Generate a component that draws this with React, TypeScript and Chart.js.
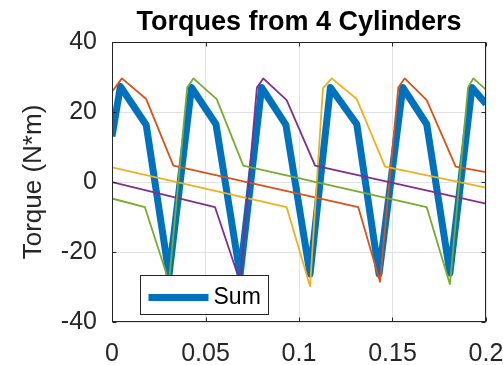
import React, { useEffect, useRef } from "react";
import { Chart, registerables } from "chart.js";

Chart.register(...registerables);

// ---- text ----
const chartTitle = "Torques from 4 Cylinders";
const yAxisTitle = "Torque (N*m)";
const xTickValues = [0, 0.05, 0.1, 0.15, 0.2];
const xTickLabels = ["0", "0.05", "0.1", "0.15", "0.2"];
const yTickValues = [-40, -20, 0, 20, 40];
const yTickLabels = ["-40", "-20", "0", "20", "40"];

// ---- series (time in s, torque in N*m) ----
const sumLabel = "Sum";
const sumTime = [0, 0.0045, 0.0183, 0.0305, 0.0425, 0.0556, 0.0685, 0.08, 0.093, 0.1059, 0.1168, 0.1309, 0.1428, 0.1555, 0.1683, 0.1807, 0.1925, 0.2];
const sumTorque = [13, 27.3, 16.3, -26.5, 27, 16.5, -26.5, 27, 16.3, -26.3, 27, 16.5, -26.3, 27, 16.5, -26, 27, 22.3];

const cyl1Time = [0, 0.0053, 0.0183, 0.0328, 0.1317, 0.1433, 0.1531, 0.1565, 0.1683, 0.1838, 0.2];
const cyl1Torque = [25.8, 29.6, 23.7, 4.7, -7.2, -28.5, 27, 29.6, 23.4, 4.4, 2.8];

const cyl2Time = [0, 0.0934, 0.1059, 0.1128, 0.1175, 0.1309, 0.146, 0.2];
const cyl2Torque = [4.2, -7.2, -29.8, 26.8, 29.6, 23.7, 4.4, -1.6];

const cyl3Time = [0, 0.0551, 0.0685, 0.0775, 0.0809, 0.0934, 0.1086, 0.2];
const cyl3Torque = [0, -7.2, -28.5, 27, 29.6, 23.4, 4.7, -6.2];

const cyl4Time = [0, 0.0176, 0.0305, 0.0402, 0.0435, 0.056, 0.0702, 0.1683, 0.1807, 0.1904, 0.1932, 0.2];
const cyl4Torque = [-4.7, -7.2, -28.5, 27, 29.6, 23.7, 4.7, -7.2, -29.2, 27, 29.6, 26.4];

const FONT = "'Liberation Sans', Arial, Helvetica, sans-serif";
const AXIS_COLOR = "#262626";

const matlabFrame = {
  id: "matlabFrame",
  afterDatasetsDraw(chart: any) {
    const { ctx, chartArea: a, scales } = chart;
    ctx.save();
    ctx.strokeStyle = AXIS_COLOR;
    ctx.lineWidth = 1;
    const L = Math.round(a.left) + 0.5;
    const R = Math.round(a.right) - 0.5;
    const T = Math.round(a.top) + 0.5;
    const B = Math.round(a.bottom) - 0.5;
    ctx.strokeRect(L, T, R - L, B - T);
    const tl = 4;
    ctx.beginPath();
    scales.x.ticks.forEach((t: any) => {
      const px = Math.round(scales.x.getPixelForValue(t.value)) + 0.5;
      ctx.moveTo(px, B);
      ctx.lineTo(px, B - tl);
      ctx.moveTo(px, T);
      ctx.lineTo(px, T + tl);
    });
    scales.y.ticks.forEach((t: any) => {
      const py = Math.round(scales.y.getPixelForValue(t.value)) + 0.5;
      ctx.moveTo(L, py);
      ctx.lineTo(L + tl, py);
      ctx.moveTo(R, py);
      ctx.lineTo(R - tl, py);
    });
    ctx.stroke();

    // legend (first series only, as in the original)
    const ds = chart.data.datasets[0];
    const bx = Math.round(a.left + 28) + 0.5;
    const bw = 128;
    const bh = 39;
    const by = Math.round(a.bottom - 8 - bh) + 0.5;
    ctx.fillStyle = "#ffffff";
    ctx.fillRect(bx, by, bw, bh);
    ctx.strokeStyle = AXIS_COLOR;
    ctx.lineWidth = 1;
    ctx.strokeRect(bx, by, bw, bh);
    const cy = by + 22;
    ctx.strokeStyle = ds.borderColor;
    ctx.lineWidth = 7;
    ctx.beginPath();
    ctx.moveTo(bx + 8, cy);
    ctx.lineTo(bx + 68, cy);
    ctx.stroke();
    ctx.fillStyle = "#000000";
    ctx.font = `23px ${FONT}`;
    ctx.textAlign = "left";
    ctx.textBaseline = "middle";
    ctx.fillText(ds.label, bx + 73, cy);
    ctx.restore();
  },
};

function series(label: string, t: number[], v: number[], color: string, width: number, order: number) {
  return {
    label,
    data: t.map((x, i) => ({ x, y: v[i] })),
    borderColor: color,
    backgroundColor: color,
    borderWidth: width,
    pointRadius: 0,
    tension: 0,
    fill: false,
    order,
    borderJoinStyle: "round" as const,
  };
}

export default function App() {
  const ref = useRef<HTMLCanvasElement>(null);
  useEffect(() => {
    const canvas = ref.current;
    if (!canvas) return;
    const chart = new Chart(canvas, {
      type: "line",
      data: {
        datasets: [
          series(sumLabel, sumTime, sumTorque, "#0072BD", 7, 4),
          series("Cylinder 1", cyl1Time, cyl1Torque, "#D95319", 1.8, 3),
          series("Cylinder 2", cyl2Time, cyl2Torque, "#EDB120", 1.8, 2),
          series("Cylinder 3", cyl3Time, cyl3Torque, "#7E2F8E", 1.8, 1),
          series("Cylinder 4", cyl4Time, cyl4Torque, "#77AC30", 1.8, 0),
        ],
      },
      options: {
        animation: false,
        responsive: false,
        devicePixelRatio: 1,
        events: [],
        layout: { padding: { left: 0, right: 17, top: 0, bottom: 0 } },
        plugins: {
          legend: { display: false },
          tooltip: { enabled: false },
          title: {
            display: true,
            text: chartTitle,
            fullSize: false,
            color: "#000000",
            font: { family: FONT, size: 27, weight: "bold", lineHeight: 1.15 },
            padding: { top: 7, bottom: 3.95 },
          },
        },
        scales: {
          x: {
            type: "linear",
            min: 0,
            max: 0.2,
            afterBuildTicks: (s: any) => {
              s.ticks = xTickValues.map((value) => ({ value }));
            },
            afterFit: (s: any) => {
              s.height = 43;
              s.paddingLeft = 0;
              s.paddingRight = 0;
            },
            ticks: {
              callback: (value: any) => xTickLabels[xTickValues.indexOf(Number(value))],
              autoSkip: false,
              maxRotation: 0,
              minRotation: 0,
              padding: 17,
              color: AXIS_COLOR,
              font: { family: FONT, size: 25 },
            },
            grid: { color: "#e2e2e2", lineWidth: 1, drawTicks: false },
            border: { display: false },
          },
          y: {
            type: "linear",
            min: -40,
            max: 40,
            afterBuildTicks: (s: any) => {
              s.ticks = yTickValues.map((value) => ({ value }));
            },
            afterFit: (s: any) => {
              s.width = 112;
            },
            ticks: {
              callback: (value: any) => yTickLabels[yTickValues.indexOf(Number(value))],
              padding: 15,
              color: AXIS_COLOR,
              font: { family: FONT, size: 25 },
            },
            grid: { color: "#e2e2e2", lineWidth: 1, drawTicks: false },
            border: { display: false },
            title: {
              display: true,
              text: yAxisTitle,
              color: AXIS_COLOR,
              font: { family: FONT, size: 26 },
              padding: { top: 18, bottom: 0 },
            },
          },
        },
      },
      plugins: [matlabFrame],
    } as any);
    return () => chart.destroy();
  }, []);

  return (
    <div style={{ position: "fixed", left: 0, top: 0, width: 503, height: 365, background: "#ffffff" }}>
      <canvas ref={ref} width={503} height={365} style={{ display: "block" }} />
    </div>
  );
}
